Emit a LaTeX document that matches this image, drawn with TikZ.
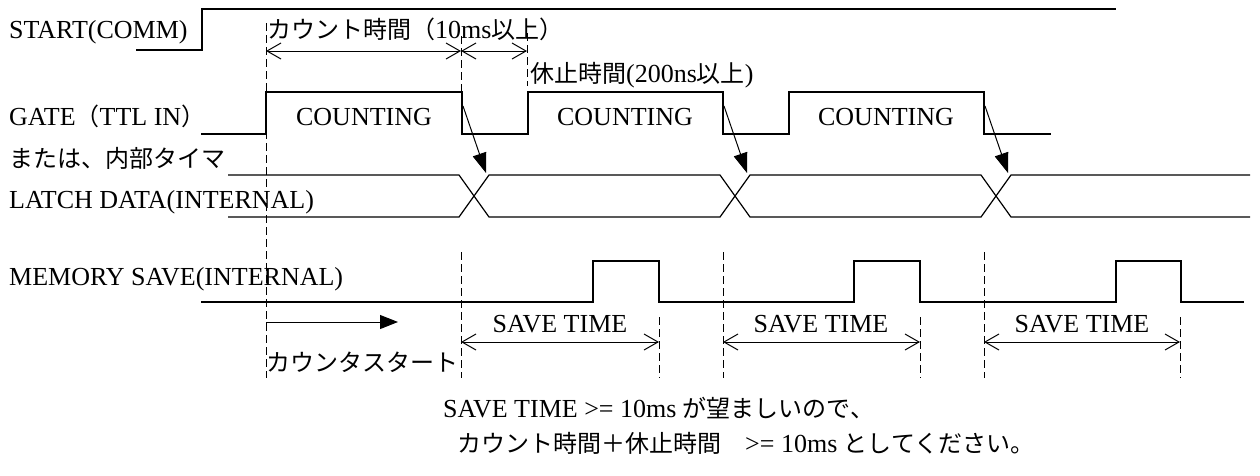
\documentclass[tikz,border=0pt]{standalone}
\usepackage{fontspec}
\setmainfont{Liberation Serif}
\newfontfamily\jp{Noto Sans CJK JP}
\usetikzlibrary{arrows.meta}
\newcommand{\lfs}{\fontsize{26}{30}\selectfont}
\newcommand{\J}[1]{{\fontsize{24}{30}\selectfont\jp #1}}
\begin{document}
\begin{tikzpicture}[x=1pt,y=-1pt,
  sig/.style={line width=2.9pt, line join=miter},
  latch/.style={line width=1.2pt},
  guide/.style={line width=0.9pt, dash pattern=on 8pt off 4pt},
  dimarrow/.style={line width=1pt, {Straight Barb[length=14pt,width=16pt]}-{Straight Barb[length=14pt,width=16pt]}},
  cause/.style={line width=1pt, -{Triangle[length=20pt,width=14pt]}},
  lbl/.style={anchor=base west, inner sep=0pt, font=\lfs},
  ctr/.style={anchor=base, inner sep=0pt, font=\lfs}]
\fill[white] (0,0) rectangle (1260,475);
\useasboundingbox (0,0) rectangle (1260,475);

% ---- labels on the left
\node[lbl] (startlbl) at (9,38) {START(COMM)};
\node[lbl] (gatelbl) at (9,125) {GATE\J{（}TTL IN\J{）}};
\node[lbl] (timerlbl) at (9,167) {\J{または、内部タイマ}};
\node[lbl] (latchlbl) at (9,208) {LATCH DATA(INTERNAL)};
\node[lbl] (memlbl) at (9,285) {MEMORY SAVE(INTERNAL)};

% ---- START signal
\draw[sig] (136,50) -- (202,50) -- (202,9) -- (1116,9);

% ---- guide lines
\draw[guide] (266,23) -- (266,378);
\draw[guide] (461,36) -- (461,92);
\draw[guide] (461,252) -- (461,378);
\draw[guide] (527,33) -- (527,86);
\draw[guide] (723,252) -- (723,378);
\draw[guide] (984,252) -- (984,378);
\draw[guide] (659,317) -- (659,378);
\draw[guide] (920,317) -- (920,378);
\draw[guide] (1180,317) -- (1180,378);

% ---- timing annotations
\node[lbl] (countlbl) at (267,38) {\J{カウント時間（}10ms\J{以上）}};
\coordinate (c0) at (266,51);
\coordinate (c1) at (461,51);
\coordinate (c2) at (527,51);
\draw[dimarrow] (c0) -- (c1);
\draw[dimarrow] (c1) -- (c2);
\node[lbl] (pauselbl) at (530,82) {\J{休止時間}(200ns\J{以上})};

% ---- GATE signal
\draw[sig] (201,134) -- (266,134) -- (266,92) -- (462,92) -- (462,134) -- (528,134)
  -- (528,92) -- (723,92) -- (723,134) -- (789,134) -- (789,92) -- (984,92)
  -- (984,134) -- (1051,134);
\node[ctr] (cnt1) at (364,125) {COUNTING};
\node[ctr] (cnt2) at (625,125) {COUNTING};
\node[ctr] (cnt3) at (886,125) {COUNTING};

% ---- LATCH DATA
\draw[latch] (228,175) -- (459,175) -- (489,217) -- (720,217) -- (750,175) -- (981,175) -- (1011,217) -- (1250,217);
\draw[latch] (228,217) -- (459,217) -- (489,175) -- (720,175) -- (750,217) -- (981,217) -- (1011,175) -- (1250,175);

% ---- causal arrows
\coordinate (g1) at (463,106); \coordinate (l1) at (486,173);
\coordinate (g2) at (724,106); \coordinate (l2) at (747,173);
\coordinate (g3) at (985,106); \coordinate (l3) at (1008,173);
\draw[cause] (g1) -- (l1);
\draw[cause] (g2) -- (l2);
\draw[cause] (g3) -- (l3);

% ---- MEMORY SAVE
\draw[sig] (201,302) -- (593,302) -- (593,261) -- (659,261) -- (659,302) -- (854,302)
  -- (854,261) -- (920,261) -- (920,302) -- (1116,302) -- (1116,261) -- (1181,261)
  -- (1181,302) -- (1244,302);

% ---- count start arrow
\coordinate (cs0) at (266,322);
\coordinate (cs1) at (398,322);
\draw[line width=1pt, -{Triangle[length=18pt,width=14pt]}] (cs0) -- (cs1);
\node[lbl] (cslbl) at (266,371) {\J{カウンタスタート}};

% ---- SAVE TIME
\coordinate (s1a) at (461,342); \coordinate (s1b) at (659,342);
\coordinate (s2a) at (723,342); \coordinate (s2b) at (920,342);
\coordinate (s3a) at (984,342); \coordinate (s3b) at (1180,342);
\draw[dimarrow] (s1a) -- (s1b);
\draw[dimarrow] (s2a) -- (s2b);
\draw[dimarrow] (s3a) -- (s3b);
\node[ctr] (sv1) at (560,332) {SAVE TIME};
\node[ctr] (sv2) at (821,332) {SAVE TIME};
\node[ctr] (sv3) at (1082,332) {SAVE TIME};

% ---- notes
\node[lbl] (note1) at (443,417) {SAVE TIME >= 10ms \J{が望ましいので、}};
\node[lbl] (note2) at (457,452) {\J{カウント時間＋休止時間　}>= 10ms \J{としてください。}};
\end{tikzpicture}
\end{document}
